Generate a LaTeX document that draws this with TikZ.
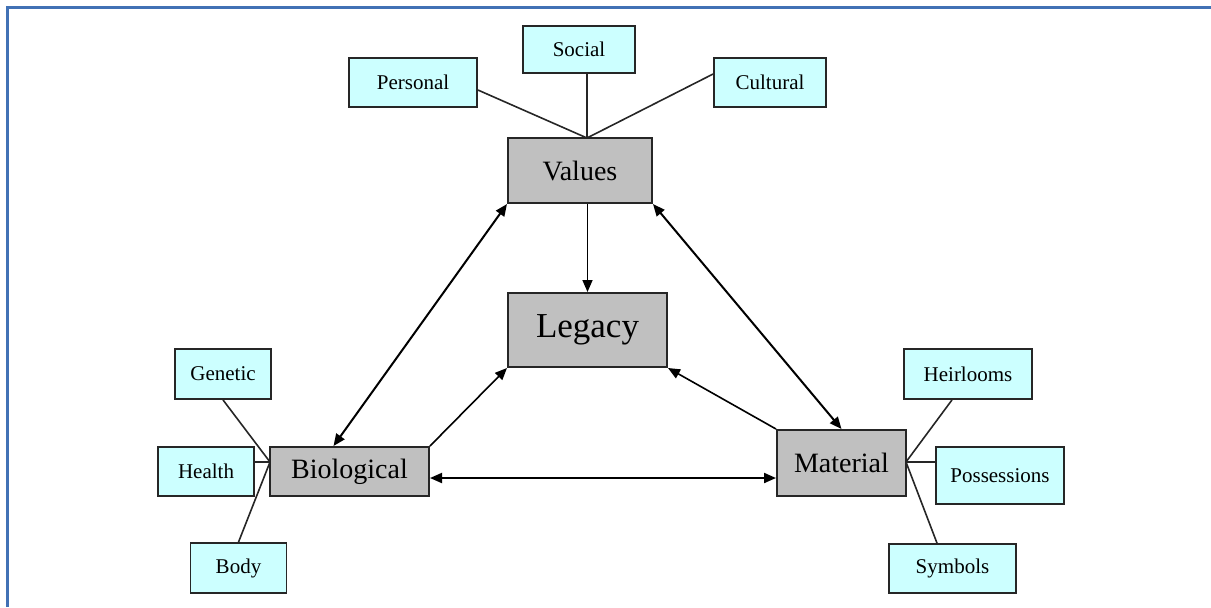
\documentclass[tikz,border=0pt]{standalone}
\usepackage{fontspec}
\setmainfont{Liberation Serif}
\definecolor{legframe}{RGB}{65,113,181}
\definecolor{legcyan}{RGB}{204,255,255}
\definecolor{leggray}{RGB}{192,192,192}
\usetikzlibrary{arrows.meta,positioning}

\begin{document}
\begin{tikzpicture}[x=0.5pt, y=-0.5pt,
      sub/.style={draw=black!85, fill=legcyan, line width=0.9pt,
                  minimum width=48pt, minimum height=24.5pt, inner sep=0pt,
                  font=\fontsize{10.5}{12}\selectfont},
      core/.style={draw=black!85, fill=leggray, line width=1pt,
                   minimum height=24.5pt, inner sep=0pt,
                   font=\fontsize{14}{16}\selectfont},
      tie/.style={black!85, line width=0.8pt},
      arr/.style={-{Triangle[length=6pt,width=5pt]}, line width=0.8pt},
      both/.style={{Triangle[length=6pt,width=5pt]}-{Triangle[length=6pt,width=5pt]}, line width=1pt}
  ]
    \useasboundingbox (0,0) rectangle (1211,607);
    \draw[legframe, line width=1.5pt] (7,607) -- (7,7) -- (1211,7);

    % central boxes
    \node[core, minimum width=72pt, minimum height=32.5pt] (val) at (580,170.5) {Values};
    \node[core, minimum width=79.5pt, minimum height=37pt,
          font=\fontsize{17.5}{20}\selectfont] (leg) at (587.5,330) {Legacy};
    \node[core, minimum width=79.5pt] (bio) at (349.5,471.5) {Biological};
    \node[core, minimum width=64.5pt, minimum height=33pt] (mat) at (841.5,463) {Material};

    % values side
    \node[sub, minimum width=64pt] (pers) at (413,82.5) {Personal};
    \node[sub, minimum width=56pt, minimum height=23.5pt] (soc) at (579,49.5) {Social};
    \node[sub, minimum width=56pt] (cult) at (770,82.5) {Cultural};
    \coordinate (vtop) at (587,138);
    \draw[tie] ([yshift=-3.75pt]pers.east) -- (vtop);
    \draw[tie] ([xshift=4pt]soc.south) -- (vtop);
    \draw[tie] ([yshift=4.25pt]cult.west) -- (vtop);

    % biological side
    \node[sub, minimum height=25pt] (gen) at (223,374) {Genetic};
    \node[sub] (hea) at (206,471.5) {Health};
    \node[sub, minimum height=25pt] (body) at (238.5,568) {Body};
    \coordinate (bwest) at (270,462);
    \draw[tie] (gen.south) -- (bwest);
    \draw[tie] ([yshift=4.75pt]hea.east) -- (bwest);
    \draw[tie] (body.north) -- (bwest);

    % material side
    \node[sub, minimum width=64pt, minimum height=25pt] (heir) at (968,374) {Heirlooms};
    \node[sub, minimum width=64pt, minimum height=28.5pt] (poss) at (1000,475.5) {Possessions};
    \node[sub, minimum width=63.5pt] (sym) at (952.5,568.5) {Symbols};
    \coordinate (meast) at (906,462);
    \draw[tie] ([xshift=-8pt]heir.south) -- (meast);
    \draw[tie] ([yshift=6.75pt]poss.west) -- (meast);
    \draw[tie] ([xshift=-7.75pt]sym.north) -- (meast);

    % links
    \draw[arr] (val.south -| leg.north) -- (leg.north);
    \draw[arr] (bio.north east) -- (leg.south west);
    \draw[arr] (mat.north west) -- (leg.south east);
    \draw[both] (val.south west) -- ([xshift=-8pt]bio.north);
    \draw[both] (val.south east) -- (mat.north);
    \coordinate (bm) at ([yshift=-3.25pt]bio.east);
    \draw[both] (bm) -- (bm -| mat.west);
  \end{tikzpicture}
\end{document}
